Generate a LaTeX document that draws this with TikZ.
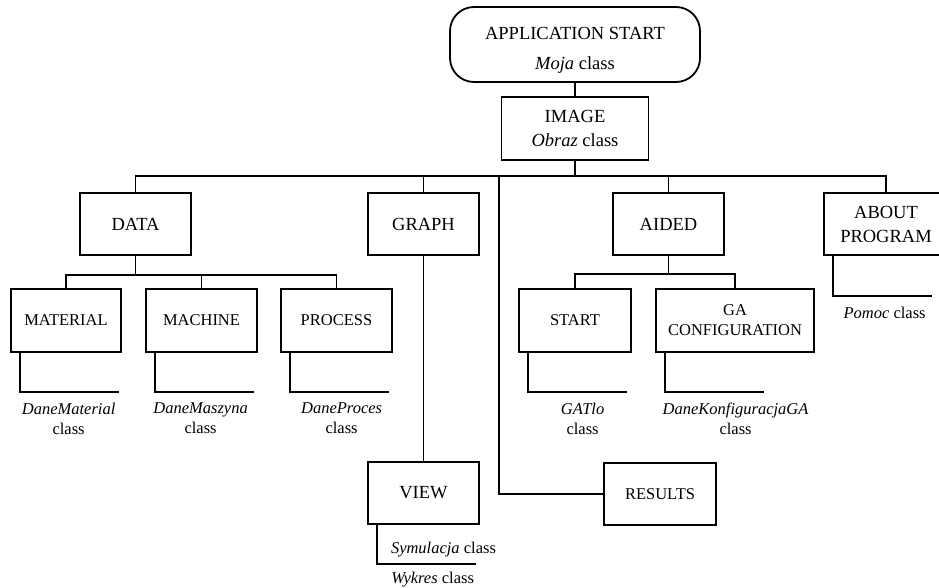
\documentclass[tikz,border=0pt]{standalone}
\usepackage{fontspec}
\setmainfont{Liberation Serif}
\usepackage{tikz}
\usetikzlibrary{positioning}

\tikzset{
  link/.style={line width=1.8pt},
  box/.style={draw, line width=1.8pt, minimum width=111pt, minimum height=62pt, align=center, inner sep=2pt, font=\fontsize{18.5}{24}\selectfont},
  subbox/.style={box, minimum height=63pt, font=\fontsize{16.5}{20}\selectfont},
  startbox/.style={box, rounded corners=24pt, minimum width=250pt, minimum height=75pt, font=\fontsize{18.5}{30}\selectfont},
  cls/.style={font=\fontsize{16.5}{20}\selectfont, align=center, inner sep=0pt},
}

\begin{document}
\begin{tikzpicture}[x=1pt,y=-1pt]
\useasboundingbox (0,0) rectangle (939,587);

% Top of the tree
\node[startbox] (start) at (575,44.5) {\rule{0pt}{23pt}APPLICATION START\\\textit{Moja} class};
\node[box, minimum width=147pt, minimum height=63pt] (image) at (575,128.5) {IMAGE\\\textit{Obraz} class};
\draw[link] (start.south) -- (image.north);

% Second level
\node[box] (data) at (135.5,224) {DATA};
\node[box] (graph) at (423.5,224) {GRAPH};
\node[box] (aided) at (668.5,224) {AIDED};
\node[box, minimum width=124pt] (about) at (886,224) {ABOUT\\PROGRAM};

% Bus under IMAGE
\coordinate (bus) at (575,176);
\draw[link] (image.south) -- (bus);
\draw[link] (data.north) |- (bus -| about.north) -- (about.north);
\draw[link] (graph.north) -- (graph.north |- bus);
\draw[link] (aided.north) -- (aided.north |- bus);

% Children of DATA
\node[subbox, minimum width=110pt] (material) at (66,320.5) {MATERIAL};
\node[subbox] (machine) at (201.5,320.5) {MACHINE};
\node[subbox] (process) at (336.5,320.5) {PROCESS};
\coordinate (dbus) at ([yshift=-19pt]data.south);
\draw[link] (data.south) -- (dbus);
\draw[link] (material.north) |- (dbus) -| (process.north);
\draw[link] (machine.north) -- (machine.north |- dbus);

% Children of AIDED
\node[subbox, minimum width=112pt] (gastart) at (575,320.5) {START};
\node[subbox, minimum width=158pt] (gaconf) at (735,320.5) {GA\\CONFIGURATION};
\coordinate (abus) at ([yshift=-18pt]aided.south);
\draw[link] (aided.south) -- (abus);
\draw[link] (gastart.north) |- (abus) -| (gaconf.north);

% GRAPH and RESULTS
\node[box] (view) at (423.5,493) {VIEW};
\node[subbox, minimum width=112pt, minimum height=62pt] (results) at (660,494) {RESULTS};
\draw[link] (graph.south) -- (view.north);
\coordinate (rtop) at (499,176);
\draw[link] (rtop) |- (results.west);

% Class brackets
\draw[link] ([xshift=10pt]material.south west) |- ++(99,39)
  node[cls, pos=0.75, below=10pt, xshift=-1pt] {\textit{DaneMaterial}\\class};
\draw[link] ([xshift=10pt]machine.south west) |- ++(99,39)
  node[cls, pos=0.75, below=10pt, xshift=-4pt] {\textit{DaneMaszyna}\\class};
\draw[link] ([xshift=10pt]process.south west) |- ++(99,39)
  node[cls, pos=0.75, below=10pt, xshift=2pt] {\textit{DaneProces}\\class};
\draw[link] ([xshift=10pt]gastart.south west) |- ++(99,39)
  node[cls, pos=0.75, below=10pt, xshift=5pt] {\textit{GATlo}\\class};
\draw[link] ([xshift=10pt]gaconf.south west) |- ++(99,39)
  node[cls, pos=0.75, below=10pt, xshift=21pt] {\textit{DaneKonfiguracjaGA}\\class};
\draw[link] ([xshift=10pt]about.south west) |- ++(99,40)
  node[cls, pos=0.75, below=10pt, xshift=2pt] {\textit{Pomoc} class};
\draw[link] ([xshift=10pt]view.south west) |- ++(99,39)
  node[cls, pos=0.5, anchor=base west, xshift=13pt, yshift=10.5pt] {\textit{Symulacja} class}
  node[cls, pos=0.75, below=7pt, xshift=6pt] {\textit{Wykres} class};

\end{tikzpicture}
\end{document}
